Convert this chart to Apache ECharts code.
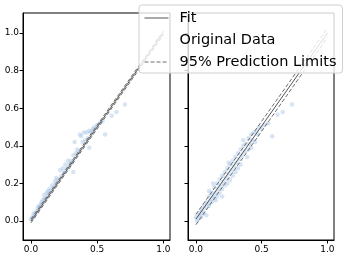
<!DOCTYPE html>
<html><head><meta charset="utf-8">
<script src="https://cdn.jsdelivr.net/npm/echarts@6/dist/echarts.min.js"></script>
<style>html,body{margin:0;padding:0;background:#fff}#c{width:349px;height:259px}</style>
</head><body><div id="c"></div>
<script>
// ---- data ----
const xTicks = [0.0, 0.5, 1.0];
const yTicks = [0.0, 0.2, 0.4, 0.6, 0.8, 1.0];

const leftPoints = [
 [0.00,0.01],[0.01,0.02],[0.02,0.02],[0.02,0.04],[0.03,0.04],[0.04,0.05],[0.05,0.05],[0.05,0.07],
 [0.06,0.08],[0.07,0.08],[0.08,0.10],[0.08,0.09],[0.09,0.11],[0.10,0.12],[0.10,0.14],[0.11,0.12],
 [0.12,0.15],[0.13,0.14],[0.13,0.16],[0.14,0.17],[0.15,0.16],[0.16,0.19],[0.17,0.18],[0.18,0.21],
 [0.19,0.20],[0.19,0.23],[0.20,0.22],[0.21,0.22],[0.22,0.27],[0.23,0.24],[0.24,0.28],[0.25,0.26],
 [0.26,0.30],[0.27,0.28],[0.28,0.32],[0.29,0.30],[0.30,0.32],[0.31,0.31],[0.32,0.26],[0.32,0.35],
 [0.33,0.42],[0.34,0.36],[0.35,0.38],[0.36,0.37],[0.37,0.46],[0.38,0.45],[0.39,0.42],[0.40,0.47],
 [0.41,0.43],[0.42,0.47],[0.43,0.44],[0.44,0.39],[0.44,0.48],[0.45,0.47],[0.46,0.48],[0.47,0.49],
 [0.48,0.50],[0.50,0.51],[0.52,0.52],[0.54,0.53],[0.56,0.46],[0.61,0.56],[0.645,0.58],[0.71,0.62],
 [0.95,0.96],[0.97,0.97]
];
const rightPoints = [
 [0.00,0.02],[0.01,0.00],[0.02,0.04],[0.02,0.01],[0.03,0.03],[0.04,0.06],[0.04,0.02],[0.05,0.05],
 [0.06,0.08],[0.06,0.04],[0.07,0.07],[0.08,0.10],[0.08,0.03],[0.09,0.09],[0.10,0.13],[0.10,0.08],
 [0.10,0.16],[0.11,0.11],[0.12,0.15],[0.12,0.10],[0.13,0.20],[0.13,0.13],[0.14,0.18],[0.14,0.12],
 [0.15,0.15],[0.15,0.11],[0.16,0.20],[0.16,0.13],[0.17,0.17],[0.18,0.22],[0.18,0.15],[0.19,0.19],
 [0.20,0.24],[0.20,0.13],[0.20,0.17],[0.21,0.21],[0.22,0.26],[0.22,0.19],[0.23,0.23],[0.24,0.28],
 [0.24,0.20],[0.25,0.25],[0.25,0.31],[0.26,0.30],[0.26,0.22],[0.27,0.27],[0.28,0.32],[0.28,0.24],
 [0.29,0.29],[0.30,0.34],[0.30,0.26],[0.31,0.31],[0.32,0.36],[0.32,0.28],[0.33,0.33],[0.34,0.38],
 [0.34,0.30],[0.35,0.35],[0.36,0.43],[0.36,0.40],[0.37,0.37],[0.38,0.41],[0.39,0.34],[0.40,0.44],
 [0.40,0.38],[0.41,0.41],[0.42,0.46],[0.42,0.39],[0.43,0.43],[0.44,0.47],[0.45,0.42],[0.46,0.48],
 [0.47,0.46],[0.48,0.50],[0.50,0.49],[0.52,0.51],[0.55,0.52],[0.58,0.45],[0.62,0.565],[0.66,0.58],
 [0.73,0.62],[0.97,0.96]
];
const leftFit = [[0.0,0.0],[1.0,1.0]];
const leftUpper = [[0.0,0.01],[1.0,1.01]];
const leftLower = [[0.0,-0.01],[1.0,0.99]];
const rightFit = [[0.0,0.01],[1.0,1.0]];
const rightUpper = [[0.0,0.035],[1.0,1.025]];
const rightLower = [[0.0,-0.02],[1.0,0.975]];

// ---- chart ----
const FONT = 'DejaVu Sans';
const ptColor = 'rgba(170,198,232,0.6)';
const fitColor = '#555';
const limColor = '#6e6e6e';

function xAxis(gi){
  return {type:'value', gridIndex:gi, min:-0.06, max:1.05,
    splitLine:{show:false},
    axisLine:{show:true,onZero:false,lineStyle:{color:'#000',width:1}},
    axisTick:{show:true,length:3.5,lineStyle:{color:'#000'},customValues:xTicks},
    axisLabel:{fontFamily:FONT,fontSize:9,color:'#000',margin:5,customValues:xTicks,
      formatter:v=>v.toFixed(1)}};
}
function yAxis(gi, labels){
  return {type:'value', gridIndex:gi, min:-0.101, max:1.106,
    splitLine:{show:false},
    axisLine:{show:true,onZero:false,lineStyle:{color:'#000',width:1}},
    axisTick:{show:true,length:3.5,lineStyle:{color:'#000'},customValues:yTicks},
    axisLabel:{show:labels,fontFamily:FONT,fontSize:9,color:'#000',margin:4,customValues:yTicks,
      formatter:v=>v.toFixed(1)}};
}
function scat(gi,data){
  return {type:'scatter',name:'Original Data',xAxisIndex:gi,yAxisIndex:gi,data:data,
    symbolSize:4.5,itemStyle:{color:ptColor},z:2,silent:true};
}
function ln(gi,name,data,color,dashed){
  return {type:'line',name:name,xAxisIndex:gi,yAxisIndex:gi,data:data,symbol:'none',
    lineStyle:{color:color,width:1,type:dashed?[4,2]:'solid'},itemStyle:{color:color},z:3,silent:true,animation:false};
}

const chart = echarts.init(document.getElementById('c'),null,{renderer:'canvas'});
chart.setOption({
  animation:false,
  backgroundColor:'#fff',
  grid:[
    {left:23,top:13,width:147,height:227,show:true,borderColor:'#000',borderWidth:1,backgroundColor:'transparent'},
    {left:188,top:13,width:146,height:227,show:true,borderColor:'#000',borderWidth:1,backgroundColor:'transparent'}
  ],
  xAxis:[xAxis(0),xAxis(1)],
  yAxis:[yAxis(0,true),yAxis(1,false)],
  legend:{
    left:139,top:5,orient:'vertical',
    padding:[5,6,3,5],itemGap:6,itemWidth:24,itemHeight:16,
    backgroundColor:'rgba(255,255,255,0.8)',borderColor:'#d0d0d0',borderWidth:1,borderRadius:3,
    textStyle:{fontFamily:FONT,fontSize:14.5,color:'#000',lineHeight:16,padding:[0,0,0,6]},
    selectedMode:false,
    data:[
      {name:'Fit',itemStyle:{opacity:0},lineStyle:{width:1,color:fitColor}},
      {name:'Original Data',icon:'none'},
      {name:'95% Prediction Limits',itemStyle:{opacity:0},lineStyle:{width:1,color:limColor,type:[4,2]}}
    ]
  },
  series:[
    scat(0,leftPoints), scat(1,rightPoints),
    ln(0,'Fit',leftFit,fitColor,false),
    ln(0,'95% Prediction Limits',leftUpper,limColor,true),
    ln(0,'95% Prediction Limits',leftLower,limColor,true),
    ln(1,'Fit',rightFit,fitColor,false),
    ln(1,'95% Prediction Limits',rightUpper,limColor,true),
    ln(1,'95% Prediction Limits',rightLower,limColor,true)
  ]
});
</script></body></html>
